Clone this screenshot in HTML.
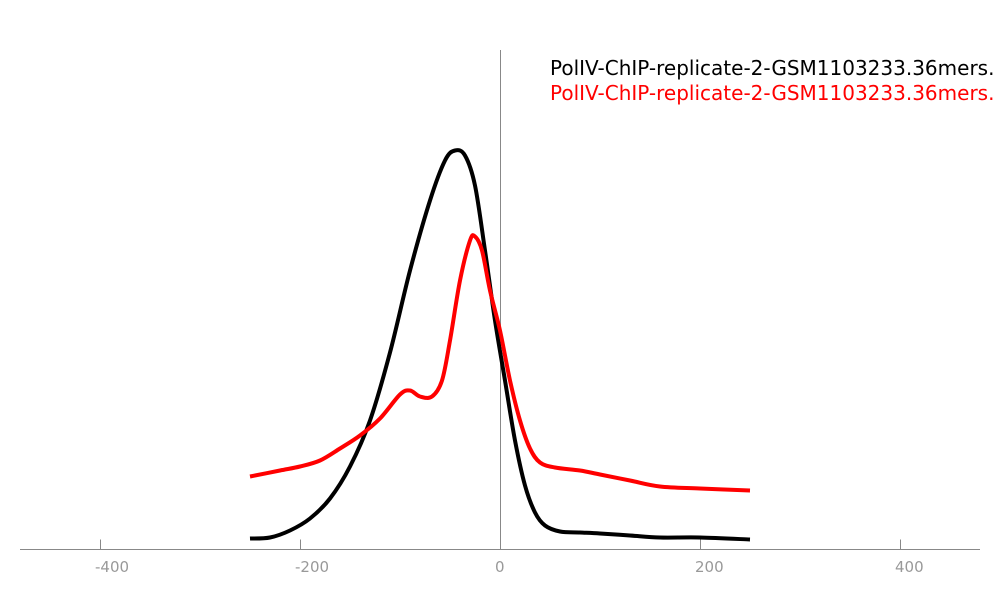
<!DOCTYPE html>
<html><head><meta charset="utf-8"><style>
body{margin:0;background:#fff;}
svg{display:block;font-family:"DejaVu Sans","Liberation Sans",sans-serif;}
</style></head><body>
<svg id="chart" width="1000" height="600"></svg>
<script>
const xTicks=[-400,-200,0,200,400];
const blackX=[-250,-230,-210,-190,-170,-150,-130,-110,-90,-70,-55,-45,-35,-25,-15,-5,5,15,25,35,45,60,80,100,130,160,200,250];
const blackY=[11,12,19,31,51,83,129,197,279,349,389,399,394,364,299,229,169,109,64,37,24,18,17,16,14,12,12,10];
const redX=[-250,-220,-200,-180,-160,-140,-120,-100,-90,-80,-68,-58,-50,-40,-30,-25,-18,-10,0,10,20,30,40,55,80,100,130,160,200,250];
const redY=[73,79,83,89,101,114,131,155,159,153,153,169,209,269,309,313,299,259,219,169,129,101,87,82,79,75,69,63,61,59];
const seriesNames=["PolIV-ChIP-replicate-2-GSM1103233.36mers.","PolIV-ChIP-replicate-2-GSM1103233.36mers."];
const NS="http://www.w3.org/2000/svg";
const svg=document.getElementById('chart');
const base=549.5;
function sx(v){return 500+v;}
function sy(v){return base-v;}
function mk(t,a){const e=document.createElementNS(NS,t);for(const k in a)e.setAttribute(k,a[k]);svg.appendChild(e);return e;}
const ax=mk('line',{x1:20,x2:980,y1:base,y2:base,stroke:'#888','stroke-width':1});


const vl=mk('line',{x1:500.5,x2:500.5,y1:50,y2:base,stroke:'#888','stroke-width':1});


xTicks.forEach(t=>{
  const l=mk('line',{x1:sx(t)+0.5,x2:sx(t)+0.5,y1:base-10,y2:base,stroke:'#888','stroke-width':1});
  
  
  const tx=mk('text',{x:sx(t)-5,y:572,'text-anchor':'start','font-size':15,fill:'#999'});
  tx.textContent=t;
  
  
});
function path(xs,ys){
  const p=xs.map((x,i)=>[sx(x),sy(ys[i])]);
  let d='M'+p[0][0]+','+p[0][1];
  for(let i=0;i<p.length-1;i++){
    const p0=p[Math.max(i-1,0)],p1=p[i],p2=p[i+1],p3=p[Math.min(i+2,p.length-1)];
    const c1=[p1[0]+(p2[0]-p0[0])/6,p1[1]+(p2[1]-p0[1])/6];
    const c2=[p2[0]-(p3[0]-p1[0])/6,p2[1]-(p3[1]-p1[1])/6];
    d+=' C'+c1+' '+c2+' '+p2;
  }
  return d;
}
const bl=mk('path',{d:path(blackX,blackY),fill:'none',stroke:'#000','stroke-width':4,'stroke-linejoin':'round'});


const rl=mk('path',{d:path(redX,redY),fill:'none',stroke:'#f00','stroke-width':4,'stroke-linejoin':'round'});


const l1=mk('text',{x:550,y:75,'font-size':20,fill:'#000'});
l1.textContent=seriesNames[0];


const l2=mk('text',{x:550,y:100,'font-size':20,fill:'#f00'});
l2.textContent=seriesNames[1];


</script>
</body></html>
